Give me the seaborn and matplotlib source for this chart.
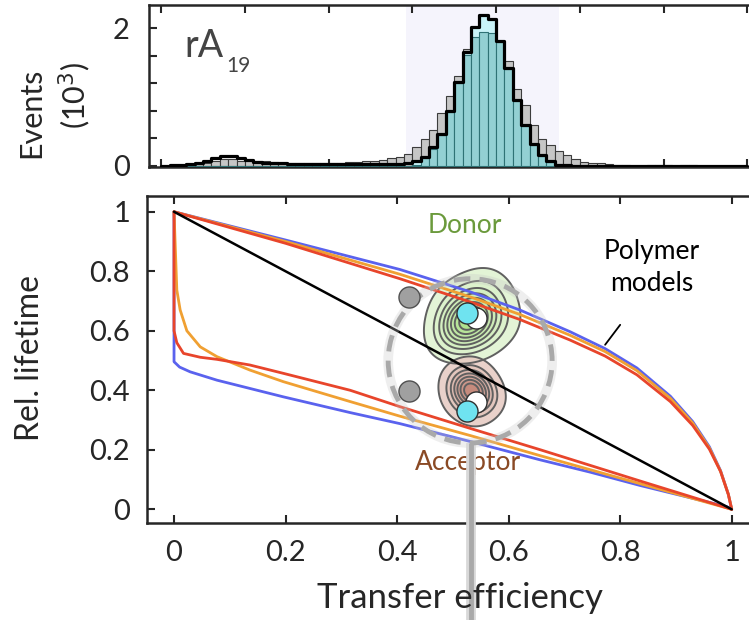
import numpy as np
import pandas as pd
import matplotlib
matplotlib.use("Agg")
import matplotlib.pyplot as plt
from matplotlib.patches import Ellipse
from matplotlib.colors import LinearSegmentedColormap
import seaborn as sns

sns.set_style("ticks")
plt.rcParams['font.family'] = ['Lato', 'DejaVu Sans']

# ---------------- histogram data (thousands of events), bins of 0.02 from -0.2 to 1.2
bin_edges = [round(-0.20 + 0.02 * i, 2) for i in range(71)]
bin_centers = [round(-0.19 + 0.02 * i, 3) for i in range(70)]

gray_counts = [0.005, 0.01, 0.015, 0.02, 0.03, 0.04, 0.075, 0.095, 0.10, 0.07,
               0.09, 0.075, 0.065, 0.06, 0.05, 0.045, 0.045, 0.045, 0.045, 0.045,
               0.05, 0.05, 0.055, 0.06, 0.065, 0.075, 0.09, 0.11, 0.135, 0.17,
               0.27, 0.39, 0.52, 0.77, 1.02, 1.31, 1.70, 1.95, 2.00, 2.00,
               1.80, 1.52, 1.12, 0.89, 0.59, 0.39, 0.30, 0.22, 0.16, 0.10,
               0.06, 0.05, 0.04, 0.03, 0.02, 0.01, 0.005, 0.0, 0.01, 0.01,
               0.01, 0.005, 0.01, 0.01, 0.0, 0.0, 0.0, 0.0, 0.0, 0.0]

black_counts = [0.005, 0.01, 0.02, 0.035, 0.05, 0.075, 0.11, 0.14, 0.14, 0.11,
                0.085, 0.06, 0.05, 0.045, 0.04, 0.035, 0.035, 0.035, 0.035, 0.035,
                0.035, 0.035, 0.035, 0.035, 0.035, 0.035, 0.035, 0.035, 0.035, 0.04,
                0.07, 0.135, 0.27, 0.47, 0.80, 1.22, 1.65, 2.02, 2.19, 2.14,
                1.82, 1.42, 0.96, 0.59, 0.315, 0.16, 0.07, 0.02, 0.01, 0.005,
                0.0, 0.0, 0.0, 0.0, 0.0, 0.0, 0.0, 0.0, 0.0, 0.0,
                0.0, 0.0, 0.0, 0.0, 0.0, 0.0, 0.0, 0.0, 0.0, 0.0]

teal_counts = [0.0] * 30 + [0.02, 0.12, 0.25, 0.45, 0.78, 1.20, 1.62, 1.88, 1.95, 1.94,
                            1.80, 1.41, 0.95, 0.58, 0.31, 0.15, 0.06, 0.02] + [0.0] * 22

selection_range = (0.385, 0.75)

# ---------------- lifetime vs transfer efficiency
static_x = [0.0, 1.0]
static_y = [1.0, 0.0]

up_x = [0, 0.2, 0.405, 0.531, 0.62, 0.71, 0.773, 0.83, 0.89, 0.93, 0.96, 0.98, 0.994, 1.0]
blue_up_y = [1, 0.905, 0.806, 0.731, 0.67, 0.597, 0.54, 0.475, 0.38, 0.295, 0.21, 0.13, 0.05, 0.0]
orange_up_y = [1, 0.90, 0.79, 0.714, 0.655, 0.585, 0.53, 0.466, 0.373, 0.29, 0.206, 0.128, 0.05, 0.0]
red_up_y = [1, 0.894, 0.775, 0.697, 0.638, 0.569, 0.515, 0.452, 0.362, 0.282, 0.202, 0.127, 0.05, 0.0]

blue_lo_x = [0, 0, 0.01, 0.029, 0.077, 0.196, 0.316, 0.405, 0.531, 0.657, 0.746, 0.836, 0.991, 1.0]
blue_lo_y = [1, 0.496, 0.478, 0.462, 0.434, 0.378, 0.325, 0.288, 0.228, 0.166, 0.125, 0.08, 0.009, 0.0]
orange_lo_x = [0, 0.005, 0.011, 0.023, 0.047, 0.077, 0.136, 0.196, 0.316, 0.405, 0.531, 0.657, 0.836, 1.0]
orange_lo_y = [1, 0.737, 0.67, 0.60, 0.546, 0.513, 0.468, 0.429, 0.362, 0.313, 0.248, 0.18, 0.086, 0.0]
red_lo_x = [0, 0.0, 0.005, 0.017, 0.047, 0.077, 0.136, 0.196, 0.316, 0.405, 0.531, 0.657, 0.836, 1.0]
red_lo_y = [1, 0.60, 0.56, 0.524, 0.511, 0.504, 0.485, 0.457, 0.40, 0.345, 0.272, 0.20, 0.095, 0.0]

donor_x = [0.522, 0.53, 0.515, 0.54, 0.51, 0.545, 0.56, 0.535, 0.50, 0.57, 0.55, 0.585, 0.495, 0.55]
donor_y = [0.625, 0.637, 0.607, 0.619, 0.649, 0.667, 0.637, 0.703, 0.703, 0.703, 0.577, 0.619, 0.583, 0.751]
donor_w = [5, 3, 2, 2, 2, 2, 1.5, 1.5, 1, 1, 1, 1, 1, 0.8]

acc_x = [0.531, 0.543, 0.521, 0.546, 0.511, 0.553, 0.531, 0.536, 0.509, 0.566, 0.516, 0.543]
acc_y = [0.40, 0.388, 0.412, 0.365, 0.385, 0.415, 0.44, 0.335, 0.43, 0.38, 0.355, 0.458]
acc_w = [5, 3, 2, 2, 1.5, 1.5, 1.5, 1, 1, 1, 1, 0.8]

gray_pts_x = [0.422, 0.422]
gray_pts_y = [0.714, 0.399]
white_pts_x = [0.542, 0.542]
white_pts_y = [0.642, 0.362]
cyan_pts_x = [0.525, 0.525]
cyan_pts_y = [0.661, 0.330]

x_ticks = [0, 0.2, 0.4, 0.6, 0.8, 1.0]
x_ticklabels = ['0', '0.2', '0.4', '0.6', '0.8', '1']
y_ticks = [0, 0.2, 0.4, 0.6, 0.8, 1.0]
y_ticklabels = ['0', '0.2', '0.4', '0.6', '0.8', '1']
hist_yticks = [0, 0.4, 0.8, 1.2, 1.6, 2.0]
hist_yticklabels = ['0', '', '', '', '', '2']
hist_xticks = [-0.2, 0, 0.2, 0.4, 0.6, 0.8, 1.0, 1.2]

hist_df = pd.DataFrame({
    'E': bin_centers,
    'gray': gray_counts,
    'black': black_counts,
    'teal': teal_counts,
})
hist_df['black_sel'] = np.where(hist_df['teal'] > 0, hist_df['black'], 0.0)

# ---------------- figure
W, H = 749, 620
fig = plt.figure(figsize=(W / 100, H / 100), dpi=100)

def fx(px):
    return px / W

def fy(py):
    return 1 - py / H

ax_top = fig.add_axes([fx(149), fy(167), 1 - fx(149), fy(5) - fy(167)])
ax = fig.add_axes([fx(146.7), fy(523), 1 - fx(146.7), fy(195.7) - fy(523)])

# ---- top histogram
ax_top.axvspan(*selection_range, color='#f5f4fc', zorder=0, lw=0)
sns.histplot(data=hist_df, x='E', weights='gray', bins=bin_edges, ax=ax_top,
             element='bars', color='#c6c6c6', alpha=1,
             edgecolor='#3c3c3c', linewidth=0.8, zorder=2)
sns.histplot(data=hist_df, x='E', weights='black_sel', bins=bin_edges, ax=ax_top,
             element='step', fill=True, color='#c9f3f8', alpha=1, linewidth=0, zorder=3)
sns.histplot(data=hist_df, x='E', weights='teal', bins=bin_edges, ax=ax_top,
             element='bars', color='#93d0d3', alpha=1, edgecolor='#2f7275',
             linewidth=0.8, zorder=4)
sns.histplot(data=hist_df, x='E', weights='black', bins=bin_edges, ax=ax_top,
             element='step', fill=False, color='black', linewidth=2.3, zorder=5)

ax_top.set_xlim(-0.229, 1.204)
ax_top.set_ylim(-0.015, 2.34)
ax_top.set_xticks(hist_xticks)
ax_top.set_xticklabels([])
ax_top.set_yticks(hist_yticks)
ax_top.set_yticklabels(hist_yticklabels)
ax_top.set_xlabel('')
ax_top.set_ylabel('')
ax_top.tick_params(direction='in', length=6, width=1.5, top=True, labelsize=21,
                   pad=14, labelbottom=False)
for s in ['top', 'bottom', 'left']:
    ax_top.spines[s].set_linewidth(1.8)
ax_top.spines['right'].set_visible(False)

fig.text(fx(184), fy(57), 'rA', fontsize=27, color='#444444', ha='left', va='baseline')
fig.text(fx(226), fy(72), '19', fontsize=15, color='#444444', ha='left', va='baseline')

fig.text(fx(31), fy(113), 'Events', rotation=90, fontsize=22, ha='center', va='center')
fig.text(fx(75), fy(95), '(10$^{3}$)', rotation=90, fontsize=22, ha='center', va='center')

# ---- bottom panel
donor_cmap = LinearSegmentedColormap.from_list('donor', ['#e2f4d4', '#9edb74'])
acc_cmap = LinearSegmentedColormap.from_list('acc', ['#ead0c8', '#b8705f'])

for xs, ys, ws, cm, nlev in [(donor_x, donor_y, donor_w, donor_cmap, 9),
                             (acc_x, acc_y, acc_w, acc_cmap, 8)]:
    sns.kdeplot(x=xs, y=ys, weights=ws, ax=ax, fill=True, cmap=cm,
                levels=nlev, thresh=0.05, alpha=0.85, bw_adjust=1.9, zorder=2)
    sns.kdeplot(x=xs, y=ys, weights=ws, ax=ax, fill=False, color='#606060',
                levels=nlev, thresh=0.05, linewidths=1.4, bw_adjust=1.9, zorder=3)

for ys, c in [(blue_up_y, '#5a62ee'), (orange_up_y, '#f0a032'), (red_up_y, '#e8452b')]:
    sns.lineplot(x=up_x, y=ys, ax=ax, sort=False, estimator=None, color=c, lw=2.0, zorder=4)
for xs, ys, c in [(blue_lo_x, blue_lo_y, '#5a62ee'), (orange_lo_x, orange_lo_y, '#f0a032'),
                  (red_lo_x, red_lo_y, '#e8452b')]:
    sns.lineplot(x=xs, y=ys, ax=ax, sort=False, estimator=None, color=c, lw=2.0, zorder=4)
sns.lineplot(x=static_x, y=static_y, ax=ax, sort=False, estimator=None, color='black',
             lw=1.8, zorder=4)

# dashed circle and connector
circ_c = (0.531, 0.499)
circ_w, circ_h = 0.294, 0.552
ax.add_patch(Ellipse(circ_c, circ_w, circ_h, fill=False, edgecolor='#c8c8c8', lw=7,
                     alpha=0.3, zorder=5))
ax.add_patch(Ellipse(circ_c, circ_w, circ_h, fill=False, edgecolor='#a9a9a9', lw=3.5,
                     ls=(0, (3.4, 1.9)), zorder=6))
ax.plot([0.533, 0.533], [0.222, -0.40], color='#d8d8d8', lw=7, clip_on=False, zorder=5,
        solid_capstyle='butt')
ax.plot([0.533, 0.533], [0.222, -0.40], color='#a9a9a9', lw=3.5, clip_on=False, zorder=6,
        solid_capstyle='butt')

sns.scatterplot(x=gray_pts_x, y=gray_pts_y, ax=ax, s=230, color='#a0a0a0',
                edgecolor='#505050', linewidth=1.0, zorder=7)
sns.scatterplot(x=white_pts_x, y=white_pts_y, ax=ax, s=230, color='white',
                edgecolor='#303030', linewidth=1.0, zorder=7)
sns.scatterplot(x=cyan_pts_x, y=cyan_pts_y, ax=ax, s=230, color='#6fe3f0',
                edgecolor='#303030', linewidth=1.0, zorder=8)

ax.text(0.522, 0.955, 'Donor', color='#6b9a3c', fontsize=19, ha='center', va='center')
ax.text(0.527, 0.158, 'Acceptor', color='#8a4a25', fontsize=19, ha='center', va='center')
ax.text(0.857, 0.812, 'Polymer\nmodels', color='black', fontsize=19, ha='center',
        va='center', linespacing=1.35)
ax.plot([0.80, 0.773], [0.62, 0.553], color='black', lw=1.3, zorder=5)

ax.set_xlim(-0.049, 1.031)
ax.set_ylim(-0.046, 1.054)
ax.set_xticks(x_ticks)
ax.set_xticklabels(x_ticklabels)
ax.set_yticks(y_ticks)
ax.set_yticklabels(y_ticklabels)
ax.set_xlabel('')
ax.set_ylabel('')
ax.tick_params(direction='in', length=6, width=1.5, top=True, labelsize=21, pad=12)
for s in ['top', 'bottom', 'left']:
    ax.spines[s].set_linewidth(1.8)
ax.spines['right'].set_visible(False)

fig.text(fx(460), fy(598), 'Transfer efficiency', fontsize=25, ha='center', va='center')
fig.text(fx(30), fy(358), 'Rel. lifetime', rotation=90, fontsize=23, ha='center', va='center')

fig.savefig('out.png', dpi=100)
